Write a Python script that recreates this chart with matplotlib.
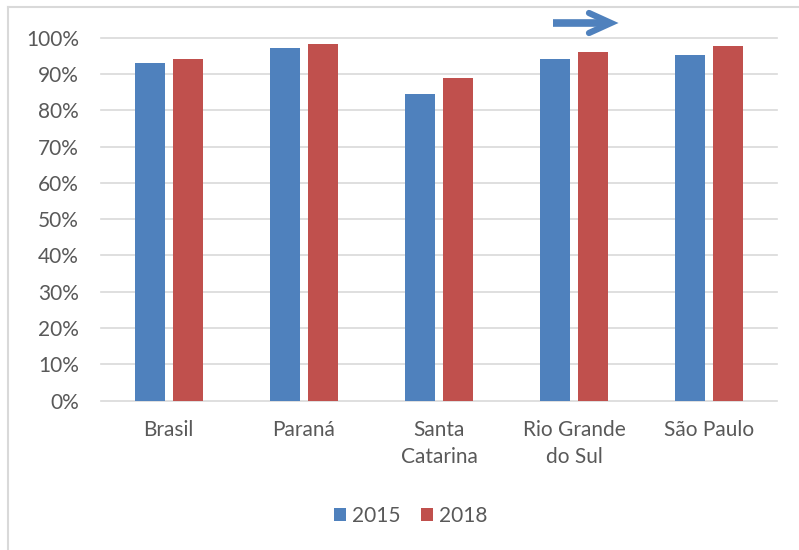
import matplotlib
matplotlib.use("Agg")
import matplotlib.pyplot as plt
import numpy as np
from matplotlib.lines import Line2D
from matplotlib.ticker import PercentFormatter

plt.rcParams['font.family'] = ['Lato', 'DejaVu Sans']

categories = ["Brasil", "Paraná", "Santa\nCatarina", "Rio Grande\ndo Sul", "São Paulo"]
series_names = ["2015", "2018"]
values_2015 = [0.929, 0.971, 0.844, 0.941, 0.951]
values_2018 = [0.940, 0.983, 0.888, 0.960, 0.976]
yticks = [0, 0.1, 0.2, 0.3, 0.4, 0.5, 0.6, 0.7, 0.8, 0.9, 1.0]

BLUE = "#4F81BD"
RED = "#C0504D"
GRID = "#D9D9D9"
TEXT = "#595959"
FS = 15

W, H = 799, 550
fig = plt.figure(figsize=(W / 100, H / 100), dpi=100)
ax = fig.add_axes([101 / W, 1 - 400.7 / H, 676 / W, (400.7 - 37.7) / H])

x = np.arange(len(categories))
bw = 0.222
off = 0.14
ax.bar(x - off, values_2015, bw, color=BLUE, label=series_names[0], zorder=3)
ax.bar(x + off, values_2018, bw, color=RED, label=series_names[1], zorder=3)

ax.set_xlim(-0.5, len(categories) - 0.5)
ax.set_ylim(0, 1.0)
ax.set_yticks(yticks)
ax.yaxis.set_major_formatter(PercentFormatter(1.0, decimals=0))
for y in yticks:
    ax.axhline(y, color=GRID, lw=1.2, zorder=1, clip_on=False)

ax.set_xticks(x)
ax.set_xticklabels(categories, linespacing=1.45)
ax.tick_params(axis='both', length=0, labelsize=FS, colors=TEXT)
ax.tick_params(axis='y', pad=16)
ax.tick_params(axis='x', pad=14)
for s in ax.spines.values():
    s.set_visible(False)

fig.legend(loc='center', bbox_to_anchor=(0.514, 1 - 516 / H), ncol=2, frameon=False,
           handlelength=0.6, handleheight=0.6, handletextpad=0.3, columnspacing=0.95,
           fontsize=FS, labelcolor=TEXT)

# outer frame (clipped on right and bottom)
fig.add_artist(Line2D([8 / W, 8 / W], [0, 1 - 7 / H], transform=fig.transFigure, color=GRID, lw=1.5))
fig.add_artist(Line2D([8 / W, 1], [1 - 7 / H, 1 - 7 / H], transform=fig.transFigure, color=GRID, lw=1.5))

# arrow near the top
fig.add_artist(Line2D([553 / W, 607 / W], [1 - 23 / H, 1 - 23 / H], transform=fig.transFigure,
                      color=BLUE, lw=5.5, solid_capstyle='butt'))
fig.add_artist(Line2D([589 / W, 611 / W, 589 / W], [1 - 13 / H, 1 - 23 / H, 1 - 33 / H],
                      transform=fig.transFigure, color=BLUE, lw=4.5,
                      solid_capstyle='round', solid_joinstyle='miter'))

fig.savefig("out.png", dpi=100)
